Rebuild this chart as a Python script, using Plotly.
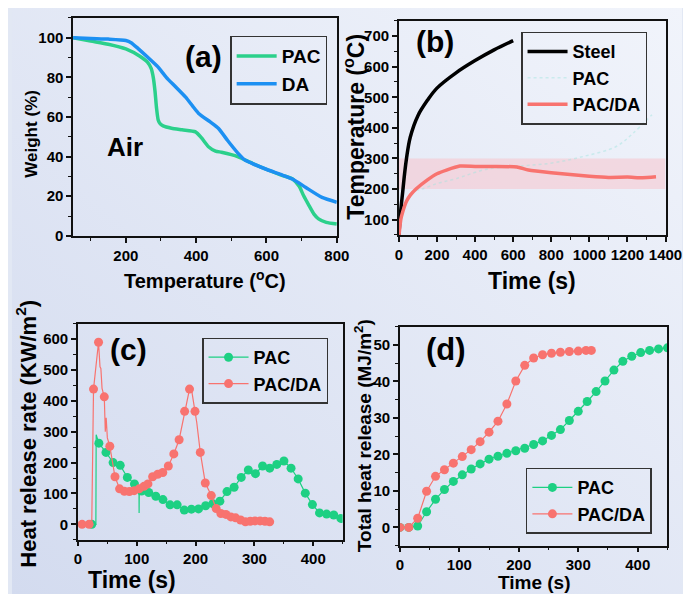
import base64
import plotly.graph_objects as go

# ---------------- data ----------------
# (a) TGA in air
tga_temp_pac = [50, 100, 150, 200, 240, 262, 272, 278, 283, 287, 292, 298, 306, 330, 360, 398, 415, 435, 455, 472,
                500, 518, 560, 601, 640, 675, 693, 705, 721, 735, 748, 770, 800]
tga_weight_pac = [100, 98.3, 96.7, 94.3, 90.6, 87.5, 84.5, 80, 73, 65, 58.5, 56.5, 55.5, 54.3, 53.5, 52.5, 49.5, 45,
                  42.8, 42.2, 41, 40, 36.6, 33.5, 30.8, 28.6, 25, 20.5, 15.3, 11, 8.6, 6.8, 6]
tga_temp_da = [50, 100, 150, 200, 215, 235, 260, 290, 315, 340, 370, 390, 407, 440, 463, 490, 518, 537, 560, 601,
               640, 675, 712, 758, 800]
tga_weight_da = [100, 99.6, 99.3, 98.6, 97.5, 94.5, 90.5, 85.5, 80, 75.5, 70, 65.5, 61.8, 57.5, 54.3, 48, 41.9, 38.5,
                 36.5, 33.5, 31, 28.6, 24.4, 19.4, 17]

# (b) back-side temperature
steel_time = [0, 10, 20, 30, 40, 60, 100, 150, 200, 300, 400, 500, 600]
steel_temp = [50, 130, 190, 250, 300, 370, 440, 490, 530, 580, 620, 655, 685]
pac_time = [90, 122, 200, 295, 463, 631, 804, 972, 1141, 1227, 1329]
pac_temp = [195, 200, 218, 233, 265, 275, 285, 307, 339, 381, 443]
pacda_time = [0, 10, 20, 40, 60, 90, 150, 200, 250, 320, 400, 500, 620, 680, 800, 1000, 1100, 1200, 1280, 1350]
pacda_temp = [45, 100, 125, 160, 180, 200, 230, 250, 262, 275, 274, 274, 272, 262, 253, 242, 238, 239, 237, 240]

# (c) heat release rate
hrr_time_pac = [23.5, 35.6, 47.7, 59.8, 71.9, 84, 96.1, 108.2, 120.3, 132.4, 144.5, 156.6, 168.7, 180.8, 192.9, 205,
                217.1, 229.2, 241.3, 253.4, 265.5, 277.6, 289.7, 301.8, 313.9, 326, 338.1, 350.2, 362.3, 374.4, 386.5,
                398.6, 410.7, 422.8, 434.9, 447]
hrr_pac = [0, 263, 233, 200, 191, 152, 131, 108, 103, 91, 80, 63, 63, 46, 49, 50, 60, 67, 75, 106, 120, 152, 176, 164,
           189, 182, 194, 205, 182, 147, 101, 64, 37, 33, 30, 19]
hrr_time_pac_extra = [30.5, 31, 32.5, 103.8, 104, 104.3]
hrr_pac_extra = [0, 290, 278, 115, 37, 113]
hrr_time_pacda = [7, 19, 26.5, 35, 44.8, 54.2, 63, 70.8, 79, 87.4, 95.7, 104, 112.3, 119, 127, 135.5, 144.3, 153.7,
                  163, 172, 181.4, 189.7, 199, 208, 216.5, 226.7, 235, 243, 251.6, 260, 268, 276.5, 284.8, 293, 301,
                  309.7, 318, 326]
hrr_pacda = [0, 0, 438, 590, 413, 253, 154, 115, 107, 106, 109, 115, 123, 131, 154, 162, 168, 189, 228, 274, 366, 438,
             366, 233, 134, 93, 51, 35, 32, 24, 21, 14, 8, 10, 11, 11, 10, 8]
hrr_time_pacda_extra = [23.5, 37.5, 39, 41, 46.5, 48, 50, 193, 202]
hrr_pacda_extra = [0, 510, 505, 440, 300, 345, 280, 438, 330]

# (d) total heat release
thr_time_pac = [0, 15, 30, 45, 60, 75, 90, 105, 120, 135, 150, 165, 180, 195, 210, 225, 240, 255, 270, 285, 300, 315,
                330, 345, 360, 375, 390, 405, 420, 435, 450]
thr_pac = [0, 0, 0.4, 4.3, 7.7, 10.4, 12.6, 14.4, 16, 17.4, 18.7, 19.5, 20.3, 21, 21.7, 22.7, 23.7, 25.2, 26.8, 29.3,
           31.8, 34.5, 37.2, 40.1, 43.1, 45.5, 46.9, 47.9, 48.5, 48.9, 49.2]
thr_time_pacda = [0, 15, 30, 45, 60, 75, 90, 105, 120, 135, 150, 165, 180, 195, 210, 225, 240, 255, 270, 285, 300,
                  313, 322]
thr_pacda = [0, 0, 2.5, 9.9, 14, 15.8, 17.6, 19.4, 21.3, 23.5, 26.1, 29.1, 33.8, 40.1, 44.4, 46.4, 47.3, 47.7, 48,
             48.2, 48.3, 48.5, 48.5]

# ---------------- style ----------------
W, H = 691, 594
FONT = "Liberation Sans, Arial, sans-serif"
GREEN_A = "#2bd08b"
GREEN = "#1dd083"
BLUE = "#1c90f2"
RED = "#f8736f"


def px(x):
    return x / W


def py(y):
    return 1 - y / H


def merged(t1, v1, t2, v2):
    pts = sorted(zip(list(t1) + list(t2), list(v1) + list(v2)), key=lambda p: p[0])
    return [p[0] for p in pts], [p[1] for p in pts]


fig = go.Figure()

# (a)
fig.add_trace(go.Scatter(x=tga_temp_pac, y=tga_weight_pac, mode="lines", name="PAC",
                         line=dict(color=GREEN_A, width=3.5, shape="spline", smoothing=0.6),
                         xaxis="x", yaxis="y", legend="legend"))
fig.add_trace(go.Scatter(x=tga_temp_da, y=tga_weight_da, mode="lines", name="DA",
                         line=dict(color=BLUE, width=3.5, shape="spline", smoothing=0.6),
                         xaxis="x", yaxis="y", legend="legend"))

# (b)
fig.add_trace(go.Scatter(x=steel_time, y=steel_temp, mode="lines", name="Steel",
                         line=dict(color="black", width=3.5, shape="spline"),
                         xaxis="x2", yaxis="y2", legend="legend2"))
fig.add_trace(go.Scatter(x=pac_time, y=pac_temp, mode="lines", name="PAC",
                         line=dict(color="rgba(160,228,222,0.45)", width=1.5, dash="dot", shape="spline"),
                         xaxis="x2", yaxis="y2", legend="legend2"))
fig.add_trace(go.Scatter(x=pacda_time, y=pacda_temp, mode="lines", name="PAC/DA",
                         line=dict(color=RED, width=3.5, shape="spline", smoothing=0.5),
                         xaxis="x2", yaxis="y2", legend="legend2"))

# (c)
lx, ly = merged(hrr_time_pac, hrr_pac, hrr_time_pac_extra, hrr_pac_extra)
fig.add_trace(go.Scatter(x=lx, y=ly, mode="lines", line=dict(color=GREEN, width=1.2),
                         showlegend=False, xaxis="x3", yaxis="y3"))
fig.add_trace(go.Scatter(x=hrr_time_pac, y=hrr_pac, mode="markers", marker=dict(color=GREEN, size=9),
                         showlegend=False, xaxis="x3", yaxis="y3"))
lx, ly = merged(hrr_time_pacda, hrr_pacda, hrr_time_pacda_extra, hrr_pacda_extra)
fig.add_trace(go.Scatter(x=lx, y=ly, mode="lines", line=dict(color=RED, width=1.2),
                         showlegend=False, xaxis="x3", yaxis="y3"))
fig.add_trace(go.Scatter(x=hrr_time_pacda, y=hrr_pacda, mode="markers", marker=dict(color=RED, size=9),
                         showlegend=False, xaxis="x3", yaxis="y3"))
fig.add_trace(go.Scatter(x=[None], y=[None], mode="lines+markers", name="PAC",
                         line=dict(color=GREEN, width=1.2), marker=dict(color=GREEN, size=9),
                         xaxis="x3", yaxis="y3", legend="legend3"))
fig.add_trace(go.Scatter(x=[None], y=[None], mode="lines+markers", name="PAC/DA",
                         line=dict(color=RED, width=1.2), marker=dict(color=RED, size=9),
                         xaxis="x3", yaxis="y3", legend="legend3"))

# (d)
fig.add_trace(go.Scatter(x=thr_time_pac, y=thr_pac, mode="lines+markers", name="PAC",
                         line=dict(color=GREEN, width=1.2), marker=dict(color=GREEN, size=9),
                         xaxis="x4", yaxis="y4", legend="legend4"))
fig.add_trace(go.Scatter(x=thr_time_pacda, y=thr_pacda, mode="lines+markers", name="PAC/DA",
                         line=dict(color=RED, width=1.2), marker=dict(color=RED, size=9),
                         xaxis="x4", yaxis="y4", legend="legend4"))


def axis(domain, rng, dtick, minor, anchor, tick0=0):
    return dict(domain=domain, range=rng, dtick=dtick, tick0=tick0, anchor=anchor,
                showline=True, mirror=True, linecolor="#111", linewidth=1.5,
                ticks="outside", ticklen=5, tickwidth=1.5, tickcolor="#111",
                minor=dict(dtick=minor, ticks="outside", ticklen=3, tickwidth=1.2, tickcolor="#111"),
                showgrid=False, zeroline=False,
                tickfont=dict(family=FONT, size=15, color="black", weight="bold"))


layout = dict(
    width=W, height=H,
    margin=dict(l=0, r=0, t=0, b=0),
    paper_bgcolor="#e2e8f4",
    plot_bgcolor="rgba(0,0,0,0)",
    font=dict(family=FONT, color="black"),
    xaxis=axis([px(63), px(335)], [50, 800], 200, 100, "y"),
    yaxis=axis([py(231), py(10)], [0, 110], 20, 10, "x"),
    xaxis2=axis([px(399), px(674)], [0, 1400], 200, 100, "y2"),
    yaxis2=axis([py(230), py(13)], [50, 750], 100, 50, "x2"),
    xaxis3=axis([px(68), px(341)], [0, 450], 100, 50, "y3"),
    yaxis3=axis([py(539), py(320)], [-50, 650], 100, 50, "x3"),
    xaxis4=axis([px(400), px(676)], [0, 450], 100, 50, "y4"),
    yaxis4=axis([py(545), py(323)], [-5, 55], 10, 5, "x4"),
)


def legend(x, y, size):
    return dict(x=px(x), y=py(y), xanchor="left", yanchor="top", bgcolor="rgba(0,0,0,0)",
                bordercolor="#333", borderwidth=1.5,
                font=dict(family=FONT, size=size, color="black", weight="bold"),
                tracegroupgap=0, itemwidth=40)


layout["legend"] = legend(225, 28, 19)
layout["legend2"] = legend(525, 24, 18)
layout["legend3"] = legend(196, 334, 18)
layout["legend4"] = legend(530, 466, 18)

fig.update_layout(**layout)

# gradient background
svg = ('<svg xmlns="http://www.w3.org/2000/svg" width="691" height="594">'
       '<defs><linearGradient id="g" x1="0" y1="1" x2="1" y2="0">'
       '<stop offset="0" stop-color="#d3dbef"/><stop offset="1" stop-color="#f1f4fb"/>'
       '</linearGradient></defs><rect width="691" height="594" fill="url(#g)"/></svg>')
src = "data:image/svg+xml;base64," + base64.b64encode(svg.encode()).decode()
fig.add_layout_image(dict(source=src, xref="paper", yref="paper", x=0, y=1, sizex=1, sizey=1,
                          sizing="stretch", layer="below"))

# pink band in (b)
fig.add_shape(type="rect", xref="x2", yref="y2", x0=0, x1=1400, y0=200, y1=300,
              fillcolor="rgba(246,200,208,0.6)", line=dict(width=0), layer="below")


def ann(text, x, y, size, angle=0):
    fig.add_annotation(text=text, x=px(x), y=py(y), xref="paper", yref="paper", showarrow=False,
                       xanchor="center", yanchor="middle", textangle=angle,
                       font=dict(family=FONT, size=size, color="black", weight="bold"))


ann("(a)", 198, 49, 30)
ann("(b)", 436, 34, 30)
ann("(c)", 120, 346, 30)
ann("(d)", 448, 346, 31)
ann("Air", 117, 141, 26)
ann("Weight (%)", 20, 127, 17, -90)
ann("Temperature (<sup>o</sup>C)", 199, 275, 20)
ann("Temperature (<sup>o</sup>C)", 353, 120, 23, -90)
ann("Time (s)", 536, 277, 23)
ann("Heat release rate (KW/m<sup>2</sup>)", 15, 432, 22, -90)
ann("Time (s)", 124, 580, 23)
ann("Total heat release (MJ/m<sup>2</sup>)", 362, 433, 19, -90)
ann("Time (s)", 539, 582, 19)

fig.write_html("out.html")
